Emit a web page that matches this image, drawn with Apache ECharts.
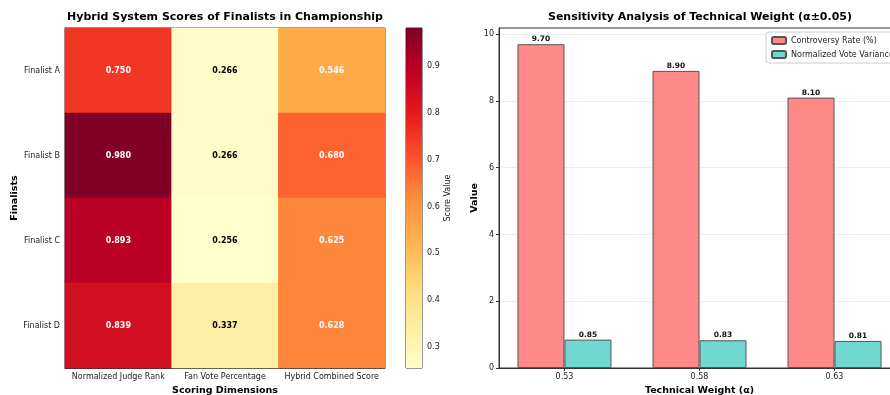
<!DOCTYPE html>
<html><head><meta charset="utf-8">
<script src="https://cdn.jsdelivr.net/npm/echarts@6/dist/echarts.min.js"></script>
<style>html,body{margin:0;padding:0;background:#fff}#c{width:890px;height:395px}</style>
</head><body><div id="c"></div>
<script>
// Heatmap data
const finalists = ['Finalist A', 'Finalist B', 'Finalist C', 'Finalist D'];
const dimensions = ['Normalized Judge Rank', 'Fan Vote Percentage', 'Hybrid Combined Score'];
const judgeRank = [0.750, 0.980, 0.893, 0.839];
const fanVote = [0.266, 0.266, 0.256, 0.337];
const hybridScore = [0.546, 0.680, 0.625, 0.628];
const colorbarTicks = [0.3, 0.4, 0.5, 0.6, 0.7, 0.8, 0.9];

// Bar chart data
const alphaCats = ['0.53', '0.58', '0.63'];
const controversyRate = [9.70, 8.90, 8.10];
const voteVariance = [0.85, 0.83, 0.81];
const valueTicks = [0, 2, 4, 6, 8, 10];

const FONT = 'DejaVu Sans';
const cols = [judgeRank, fanVote, hybridScore];
const heatData = [];
cols.forEach((arr, xi) => arr.forEach((v, yi) => heatData.push([xi, yi, v])));
const allVals = heatData.map(d => d[2]);
const vmin = Math.min(...allVals), vmax = Math.max(...allVals);
const ylorrd = ['#ffffcc','#ffeda0','#fed976','#feb24c','#fd8d3c','#fc4e2a','#e31a1c','#bd0026','#800026'];
const ymaxBar = Math.max(...controversyRate) * 1.05;
const catIdx = alphaCats.map((c, i) => i);

const chart = echarts.init(document.getElementById('c'), null, {renderer: 'canvas'});
const axisTxt = {color: '#222', fontFamily: FONT, fontSize: 8};
const nameTxt = {color: '#000', fontFamily: FONT, fontSize: 9.5, fontWeight: 'bold'};
const gridBase = {show: true, borderColor: '#333', borderWidth: 1, backgroundColor: 'transparent', containLabel: false, outerBoundsMode: 'none'};

chart.setOption({
  animation: false,
  textStyle: {fontFamily: FONT},
  title: [
    {text: 'Hybrid System Scores of Finalists in Championship', left: 225, top: 12, textAlign: 'center', padding: 0,
     textStyle: {fontFamily: FONT, fontSize: 11, fontWeight: 'bold', color: '#000'}},
    {text: 'Sensitivity Analysis of Technical Weight (α±0.05)', left: 700, top: 12, textAlign: 'center', padding: 0,
     textStyle: {fontFamily: FONT, fontSize: 11, fontWeight: 'bold', color: '#000'}}
  ],
  grid: [
    {...gridBase, left: 65, top: 28, width: 320, height: 340},
    {...gridBase, left: 406, top: 28, width: 16, height: 340},
    {...gridBase, left: 499, top: 28, width: 401, height: 340}
  ],
  visualMap: {show: false, min: vmin, max: vmax, seriesIndex: 0, dimension: 2, inRange: {color: ylorrd}},
  legend: {
    data: ['Controversy Rate (%)', 'Normalized Vote Variance'],
    orient: 'vertical', left: 766, top: 32, itemWidth: 14, itemHeight: 7, itemGap: 5,
    padding: [4, 6, 4, 5], backgroundColor: 'rgba(255,255,255,0.85)', borderColor: '#ccc', borderWidth: 1, borderRadius: 3,
    textStyle: {fontFamily: FONT, fontSize: 8, color: '#222'}
  },
  xAxis: [
    {gridIndex: 0, type: 'category', data: dimensions, axisLine: {lineStyle: {color: '#333'}},
     axisTick: {alignWithLabel: true, length: 3, lineStyle: {color: '#333'}}, axisLabel: {...axisTxt, margin: 5, interval: 0},
     name: 'Scoring Dimensions', nameLocation: 'middle', nameGap: 17, nameTextStyle: nameTxt, splitLine: {show: false}},
    {gridIndex: 1, type: 'value', min: 0, max: 1, show: false},
    {gridIndex: 2, type: 'value', min: -0.485, max: 2.485, axisLine: {onZero: false, lineStyle: {color: '#333'}},
     splitLine: {show: false},
     axisTick: {show: true, length: 3, customValues: catIdx, lineStyle: {color: '#333'}},
     axisLabel: {...axisTxt, margin: 5, customValues: catIdx, formatter: v => alphaCats[Math.round(v)]},
     name: 'Technical Weight (α)', nameLocation: 'middle', nameGap: 17, nameTextStyle: nameTxt}
  ],
  yAxis: [
    {gridIndex: 0, type: 'category', data: finalists, inverse: true, axisLine: {lineStyle: {color: '#333'}},
     axisTick: {alignWithLabel: true, length: 3, lineStyle: {color: '#333'}}, axisLabel: {...axisTxt, margin: 5},
     name: 'Finalists', nameLocation: 'middle', nameGap: 45, nameRotate: 90, nameTextStyle: nameTxt, splitLine: {show: false}},
    {gridIndex: 1, type: 'value', min: vmin, max: vmax, position: 'right',
     axisLine: {show: false}, splitLine: {show: false},
     axisTick: {show: true, length: 3, customValues: colorbarTicks, lineStyle: {color: '#333'}},
     axisLabel: {...axisTxt, margin: 5, customValues: colorbarTicks, formatter: v => v.toFixed(1)},
     name: 'Score Value', nameLocation: 'middle', nameGap: 22, nameRotate: 90,
     nameTextStyle: {fontFamily: FONT, fontSize: 8, color: '#222'}},
    {gridIndex: 2, type: 'value', min: 0, max: ymaxBar, position: 'left',
     axisLine: {show: true, onZero: false, lineStyle: {color: '#333'}},
     axisTick: {show: true, length: 3, customValues: valueTicks, lineStyle: {color: '#333'}},
     axisLabel: {...axisTxt, margin: 5, customValues: valueTicks},
     splitLine: {show: true, lineStyle: {color: '#ececec', width: 1}},
     name: 'Value', nameLocation: 'middle', nameGap: 18, nameRotate: 90, nameTextStyle: nameTxt}
  ],
  series: [
    {type: 'heatmap', xAxisIndex: 0, yAxisIndex: 0,
     data: heatData.map(d => ({value: d, label: {color: d[2] < 0.45 ? '#000' : '#fff'}})),
     label: {show: true, fontFamily: FONT, fontSize: 8, fontWeight: 'bold',
       formatter: p => p.value[2].toFixed(3)},
     itemStyle: {borderWidth: 0}},
    {type: 'custom', xAxisIndex: 1, yAxisIndex: 1, data: [[0, vmin, 1, vmax]],
     renderItem: (params, api) => {
       const p1 = api.coord([0, vmax]);
       const p2 = api.coord([1, vmin]);
       return {type: 'rect', shape: {x: p1[0], y: p1[1], width: p2[0] - p1[0], height: p2[1] - p1[1]},
         style: {fill: new echarts.graphic.LinearGradient(0, 1, 0, 0,
           ylorrd.map((c, i) => ({offset: i / (ylorrd.length - 1), color: c})))}};
     }},
    {type: 'bar', name: 'Controversy Rate (%)', xAxisIndex: 2, yAxisIndex: 2,
     data: controversyRate.map((v, i) => [i, v]),
     barWidth: 47, barGap: '0%',
     itemStyle: {color: '#ff8989', borderColor: '#555', borderWidth: 1},
     label: {show: true, position: 'top', distance: 1, fontFamily: FONT, fontSize: 7.5, fontWeight: 'bold', color: '#111',
       formatter: p => p.value[1].toFixed(2)}},
    {type: 'bar', name: 'Normalized Vote Variance', xAxisIndex: 2, yAxisIndex: 2,
     data: voteVariance.map((v, i) => [i, v]),
     barWidth: 47, barGap: '0%',
     itemStyle: {color: '#71d7d0', borderColor: '#555', borderWidth: 1},
     label: {show: true, position: 'top', distance: 1, fontFamily: FONT, fontSize: 7.5, fontWeight: 'bold', color: '#111',
       formatter: p => p.value[1].toFixed(2)}}
  ]
});
</script></body></html>
